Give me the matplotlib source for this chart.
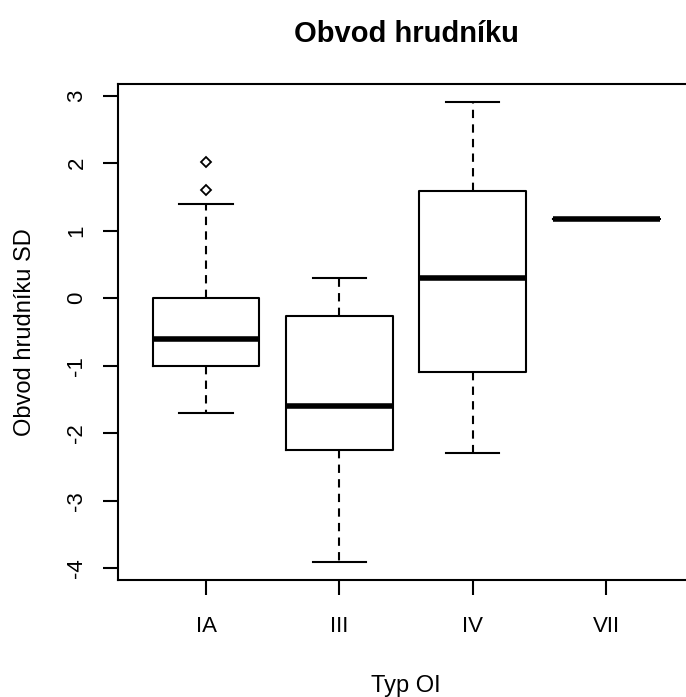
import matplotlib
matplotlib.use("Agg")
import matplotlib.pyplot as plt

plt.rcParams['font.family'] = ['Liberation Sans', 'DejaVu Sans']

# Five-number summaries per OI type
categories = ["IA", "III", "IV", "VII"]
whisker_low = [-1.7, -3.9, -2.3, 1.18]
q1 = [-1.0, -2.25, -1.1, 1.18]
median = [-0.6, -1.6, 0.3, 1.18]
q3 = [0.0, -0.27, 1.58, 1.18]
whisker_high = [1.4, 0.3, 2.9, 1.18]
outliers = [[1.6, 2.02], [], [], []]

yticks = [-4, -3, -2, -1, 0, 1, 2, 3]

stats = []
for i, name in enumerate(categories):
    stats.append(dict(label=name, whislo=whisker_low[i], q1=q1[i], med=median[i],
                      q3=q3[i], whishi=whisker_high[i], fliers=outliers[i]))

fig = plt.figure(figsize=(6.86, 6.97), dpi=100)
ax = fig.add_axes([0.172, 0.168, 0.84, 0.7115])

ax.bxp(stats, positions=range(1, len(categories) + 1), widths=0.8,
       boxprops=dict(color="black", linewidth=1.5),
       medianprops=dict(color="black", linewidth=4, solid_capstyle="butt"),
       whiskerprops=dict(color="black", linewidth=1.5, linestyle=(0, (4, 3))),
       capprops=dict(color="black", linewidth=1.5),
       capwidths=0.4,
       flierprops=dict(marker="D", markersize=5.5, markerfacecolor="white",
                       markeredgecolor="black", markeredgewidth=1.3))

ax.set_xlim(0.34, 4.66)
ax.set_ylim(-4.172, 3.172)
ax.set_yticks(yticks)
ax.set_yticklabels([str(v) for v in yticks], rotation=90, va="center", fontsize=16)
ax.set_xticks(range(1, len(categories) + 1))
ax.set_xticklabels(categories, fontsize=16)
ax.tick_params(axis="both", length=11, width=1.5, color="black")
ax.tick_params(axis="y", pad=11)
ax.tick_params(axis="x", pad=15)

for s in ax.spines.values():
    s.set_linewidth(1.5)

ax.set_title("Obvod hrudníku", fontsize=21, fontweight="bold", pad=30)
ax.set_xlabel("Typ OI", fontsize=17, labelpad=27)
ax.set_ylabel("Obvod hrudníku SD", fontsize=17, labelpad=22)

fig.savefig("out.png", dpi=100)
